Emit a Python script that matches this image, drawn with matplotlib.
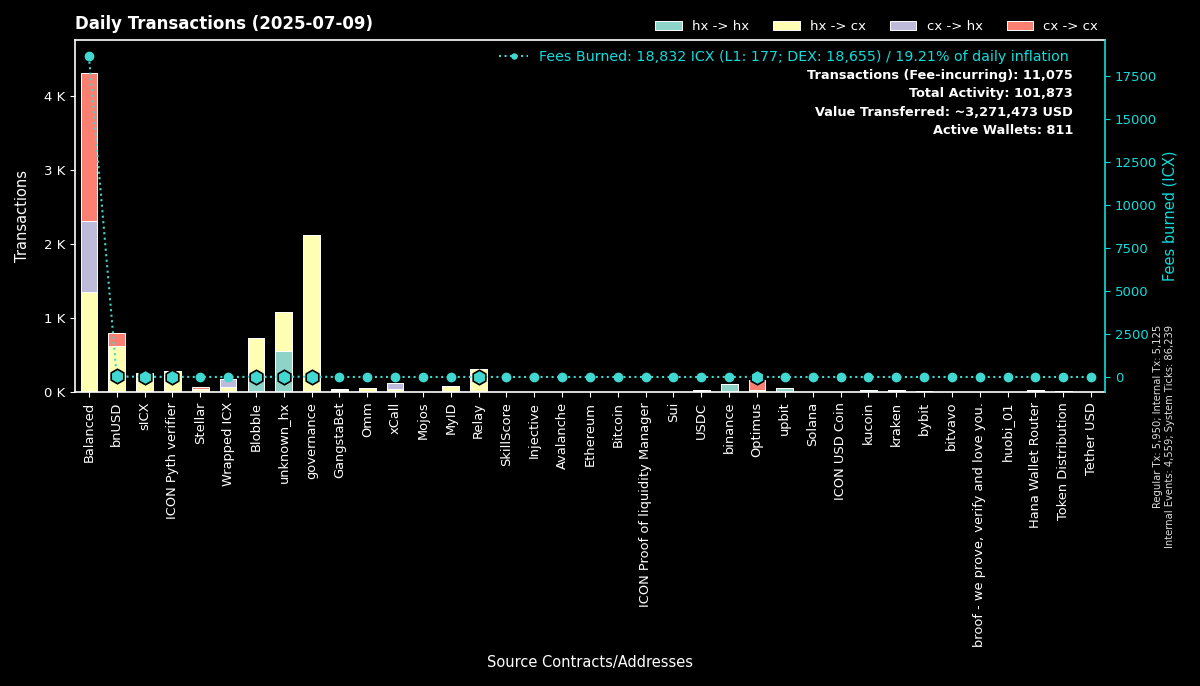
import numpy as np
import matplotlib
matplotlib.use('Agg')
import matplotlib.pyplot as plt
from matplotlib.ticker import FuncFormatter

# categories (source contracts / addresses)
labels = ['Balanced', 'bnUSD', 'sICX', 'ICON Pyth verifier', 'Stellar', 'Wrapped ICX',
          'Blobble', 'unknown_hx', 'governance', 'GangstaBet', 'Omm', 'xCall', 'Mojos',
          'MyID', 'Relay', 'SkillScore', 'Injective', 'Avalanche', 'Ethereum', 'Bitcoin',
          'ICON Proof of liquidity Manager', 'Sui', 'USDC', 'binance', 'Optimus', 'upbit',
          'Solana', 'ICON USD Coin', 'kucoin', 'kraken', 'bybit', 'bitvavo',
          'broof - we prove, verify and love you.', 'huobi_01', 'Hana Wallet Router',
          'Token Distribution', 'Tether USD']

# transaction counts per direction
hx_hx = [0, 0, 0, 0, 0, 0, 250, 550, 0, 5, 0, 0, 0,
         0, 0, 3, 2, 0, 3, 3, 0, 0, 5, 110, 0, 60,
         0, 0, 20, 10, 10, 0, 0, 0, 10, 5, 0]
hx_cx = [1350, 620, 260, 280, 40, 70, 480, 530, 2120, 20, 50, 40, 0,
         80, 310, 2, 2, 2, 2, 2, 2, 0, 10, 0, 20, 0,
         0, 0, 5, 10, 5, 0, 0, 0, 10, 3, 0]
cx_hx = [960, 0, 0, 0, 0, 110, 0, 0, 0, 20, 0, 80, 0,
         0, 0, 0, 0, 0, 0, 0, 0, 0, 5, 0, 0, 0,
         0, 0, 0, 0, 0, 0, 0, 0, 0, 0, 0]
cx_cx = [2000, 180, 0, 0, 30, 0, 0, 0, 0, 0, 0, 0, 0,
         0, 0, 0, 0, 0, 0, 0, 0, 0, 0, 0, 140, 0,
         0, 0, 0, 0, 0, 0, 0, 0, 0, 0, 0]

# fees burned per contract (ICX)
fees = [18650, 30, 12, 10, 3, 5, 8, 15, 20, 2, 2, 3, 1,
        2, 8, 1, 1, 1, 1, 1, 1, 1, 1, 4, 6, 2,
        1, 1, 1, 1, 1, 1, 1, 1, 1, 1, 1]
hex_marks = ['bnUSD', 'sICX', 'ICON Pyth verifier', 'Blobble', 'unknown_hx',
             'governance', 'Relay', 'Optimus']

series_names = ['hx -> hx', 'hx -> cx', 'cx -> hx', 'cx -> cx']
colors = ['#8dd3c7', '#ffffb3', '#bebada', '#fb8072']
turq = '#40D8D0'
cyan_txt = '#10DCDC'

fees_label = 'Fees Burned: 18,832 ICX (L1: 177; DEX: 18,655) / 19.21% of daily inflation'
info_lines = ['Transactions (Fee-incurring): 11,075', 'Total Activity: 101,873',
              'Value Transferred: ~3,271,473 USD', 'Active Wallets: 811']
side_text = 'Regular Tx: 5,950; Internal Tx: 5,125\nInternal Events: 4,559; System Ticks: 86,239'

plt.rcParams['font.family'] = 'DejaVu Sans'
fig = plt.figure(figsize=(12, 6.86), dpi=100, facecolor='black')
ax = fig.add_axes([0.0625, 0.4286, 0.8583, 0.5131])
ax.set_facecolor('black')

x = np.arange(len(labels))
bottom = np.zeros(len(labels))
for name, vals, col in zip(series_names, [hx_hx, hx_cx, cx_hx, cx_cx], colors):
    vals = np.array(vals, dtype=float)
    ax.bar(x, vals, 0.6, bottom=bottom, color=col, edgecolor='white',
           linewidth=0.7, label=name)
    bottom += vals

ax.set_xlim(-0.5, len(labels) - 0.5)
ax.set_ylim(0, 4750)
ax.set_yticks([0, 1000, 2000, 3000, 4000])
ax.yaxis.set_major_formatter(FuncFormatter(lambda v, p: f'{int(v / 1000)} K'))
ax.set_xticks(x)
ax.set_xticklabels(labels, rotation=90, fontsize=9.4, color='white')
ax.tick_params(axis='y', colors='white', labelsize=9.5)
ax.tick_params(axis='x', colors='white')
for s in ['left', 'top', 'bottom']:
    ax.spines[s].set_color('white')
    ax.spines[s].set_linewidth(1.2)
ax.spines['right'].set_visible(False)
ax.set_ylabel('Transactions', color='white', fontsize=10.5, labelpad=10)
ax.set_xlabel('Source Contracts/Addresses', color='white', fontsize=10.5, labelpad=6)
ax.set_title('Daily Transactions (2025-07-09)', color='white', fontsize=12,
             fontweight='bold', loc='left', pad=8)

leg1 = ax.legend(loc='lower right', bbox_to_anchor=(1.0, 1.0), ncol=4, frameon=False,
                 fontsize=9.5, labelcolor='white', handlelength=2.0, columnspacing=1.8,
                 borderaxespad=0.1)

ax2 = ax.twinx()
ax2.plot(x, fees, linestyle=':', marker='o', color=turq, markersize=6,
         linewidth=1.5, label=fees_label)
hx_idx = [labels.index(n) for n in hex_marks]
ax2.scatter(x[hx_idx], np.array(fees)[hx_idx], marker='h', s=110, color=turq,
            edgecolors='black', linewidths=1.2, zorder=5)
ax2.set_ylim(-870, 19590)
ax2.set_yticks(np.arange(0, 17501, 2500))
ax2.tick_params(axis='y', colors=cyan_txt, labelsize=9.5)
ax2.spines['right'].set_color(cyan_txt)
ax2.spines['right'].set_linewidth(1.2)
for s in ['left', 'top', 'bottom']:
    ax2.spines[s].set_visible(False)
ax2.set_ylabel('Fees burned (ICX)', color=cyan_txt, fontsize=10.5)
ax2.legend(loc='upper right', frameon=False, fontsize=10.3, labelcolor=cyan_txt,
           handlelength=2.0, markerscale=0.6, borderaxespad=0.3,
           bbox_to_anchor=(0.975, 1.0))

ys = [0.898, 0.847, 0.795, 0.744]
for t, yy in zip(info_lines, ys):
    ax2.text(0.969, yy, t, transform=ax2.transAxes, ha='right', va='center',
             color='white', fontsize=9.3, fontweight='bold')

fig.text(0.97, 0.364, side_text, rotation=90, ha='center', va='center',
         color='#dddddd', fontsize=7.2, multialignment='right')

fig.savefig('out.png', dpi=100, facecolor='black')
